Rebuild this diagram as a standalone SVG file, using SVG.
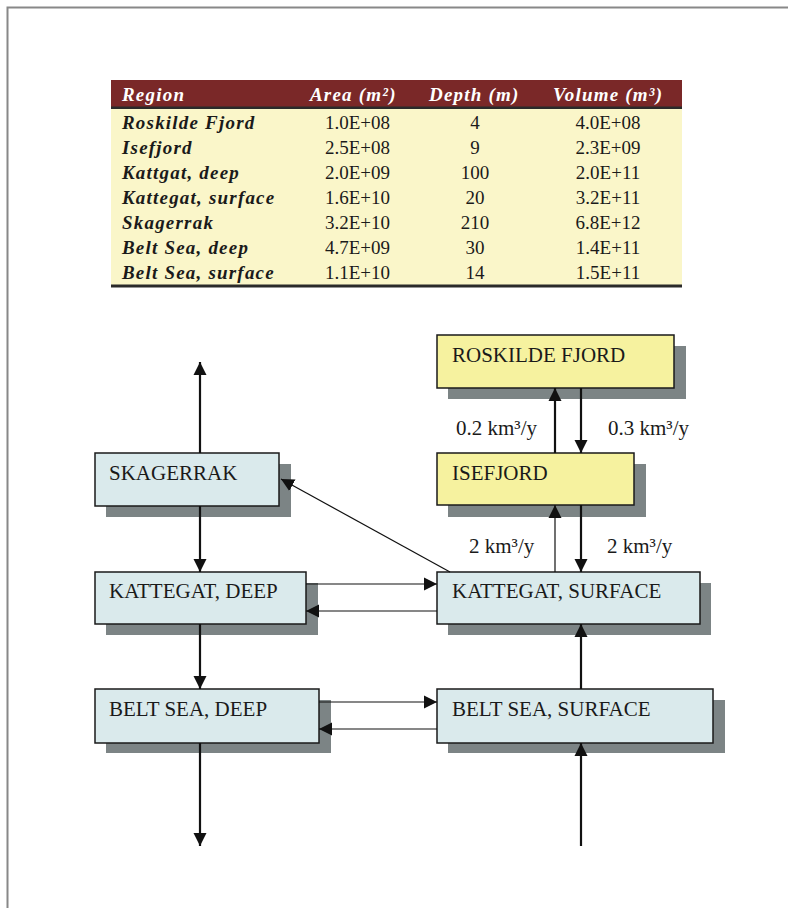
<svg xmlns="http://www.w3.org/2000/svg" width="788" height="908" viewBox="0 0 788 908">
<style>
.hd{font-family:"Liberation Serif",serif;font-size:19px;font-weight:bold;font-style:italic;fill:#fff;letter-spacing:1.2px}
.lb{font-family:"Liberation Serif",serif;font-size:19px;font-weight:bold;font-style:italic;fill:#1a1a1a;letter-spacing:1.2px}
.v{font-family:"Liberation Serif",serif;font-size:19px;fill:#1a1a1a}
.nt{font-family:"Liberation Serif",serif;font-size:21px;fill:#1a1a1a}
.fl{font-family:"Liberation Serif",serif;font-size:21px;fill:#1a1a1a}
.sh{fill:#7c8485}
.bl{fill:#daeaec;stroke:#1a1a1a;stroke-width:1.5}
.ye{fill:#f6f29f;stroke:#1a1a1a;stroke-width:1.5}
.thick{stroke:#111;stroke-width:2.2;fill:none}
.thin{stroke:#111;stroke-width:1.2;fill:none}
</style>
<defs>
<marker id="ah" markerUnits="userSpaceOnUse" markerWidth="14" markerHeight="14" viewBox="0 0 14 14" refX="13" refY="7" orient="auto">
<path d="M0,0.5 L13,7 L0,13.5 Z" fill="#111"/>
</marker>
</defs>
<rect x="0" y="0" width="788" height="908" fill="#fff"/>
<path d="M7.5,908 V7.5 H788" fill="none" stroke="#888" stroke-width="2"/>

<g id="table">
<rect x="111" y="80" width="571" height="28" fill="#7a2828"/>
<rect x="111" y="108" width="571" height="178" fill="#faf6c9"/>
<rect x="111" y="106.5" width="571" height="2.5" fill="#2a2a2a"/>
<rect x="111" y="284.5" width="571" height="3" fill="#2a2a2a"/>
<text class="hd" x="122" y="101">Region</text>
<text class="hd" x="310" y="101">Area (m²)</text>
<text class="hd" x="429" y="101">Depth (m)</text>
<text class="hd" x="553" y="101">Volume (m³)</text>
<g class="lb">
<text x="122" y="128.5">Roskilde Fjord</text>
<text x="122" y="153.5">Isefjord</text>
<text x="122" y="178.5">Kattgat, deep</text>
<text x="122" y="204">Kattegat, surface</text>
<text x="122" y="229">Skagerrak</text>
<text x="122" y="254">Belt Sea, deep</text>
<text x="122" y="279">Belt Sea, surface</text>
</g>
<g class="v" text-anchor="end">
<text x="390" y="128.5">1.0E+08</text>
<text x="390" y="153.5">2.5E+08</text>
<text x="390" y="178.5">2.0E+09</text>
<text x="390" y="204">1.6E+10</text>
<text x="390" y="229">3.2E+10</text>
<text x="390" y="254">4.7E+09</text>
<text x="390" y="279">1.1E+10</text>
</g>
<g class="v" text-anchor="middle">
<text x="475" y="128.5">4</text>
<text x="475" y="153.5">9</text>
<text x="475" y="178.5">100</text>
<text x="475" y="204">20</text>
<text x="475" y="229">210</text>
<text x="475" y="254">30</text>
<text x="475" y="279">14</text>
<text x="608" y="128.5">4.0E+08</text>
<text x="608" y="153.5">2.3E+09</text>
<text x="608" y="178.5">2.0E+11</text>
<text x="608" y="204">3.2E+11</text>
<text x="608" y="229">6.8E+12</text>
<text x="608" y="254">1.4E+11</text>
<text x="608" y="279">1.5E+11</text>
</g>
</g>

<g id="roskilde">
<rect class="sh" x="448" y="346" width="238" height="53"/>
<rect class="ye" x="437" y="335" width="237" height="53"/>
<text class="nt" x="452" y="362">ROSKILDE FJORD</text>
</g>
<g id="isefjord">
<rect class="sh" x="448" y="464" width="198" height="53"/>
<rect class="ye" x="437" y="453" width="197" height="52"/>
<text class="nt" x="452" y="480">ISEFJORD</text>
</g>
<g id="skagerrak">
<rect class="sh" x="106" y="464" width="185" height="53"/>
<rect class="bl" x="95" y="453" width="184" height="53"/>
<text class="nt" x="109" y="480">SKAGERRAK</text>
</g>
<g id="kattegat-deep">
<rect class="sh" x="106" y="583" width="212" height="52"/>
<rect class="bl" x="95" y="572" width="211" height="52"/>
<text class="nt" x="109" y="598">KATTEGAT, DEEP</text>
</g>
<g id="kattegat-surface">
<rect class="sh" x="448" y="583" width="263" height="52"/>
<rect class="bl" x="437" y="572" width="263" height="52"/>
<text class="nt" x="452" y="598">KATTEGAT, SURFACE</text>
</g>
<g id="belt-deep">
<rect class="sh" x="106" y="700" width="225" height="53"/>
<rect class="bl" x="95" y="689" width="224" height="54"/>
<text class="nt" x="109" y="716">BELT SEA, DEEP</text>
</g>
<g id="belt-surface">
<rect class="sh" x="448" y="700" width="277" height="53"/>
<rect class="bl" x="437" y="689" width="276" height="54"/>
<text class="nt" x="452" y="716">BELT SEA, SURFACE</text>
</g>

<g id="connectors">
<line class="thick" x1="200" y1="453" x2="200" y2="362" marker-end="url(#ah)"/>
<line class="thick" x1="200" y1="506" x2="200" y2="572" marker-end="url(#ah)"/>
<line class="thick" x1="200" y1="624" x2="200" y2="689" marker-end="url(#ah)"/>
<line class="thick" x1="200" y1="743" x2="200" y2="846" marker-end="url(#ah)"/>
<line class="thick" x1="555" y1="453" x2="555" y2="388" marker-end="url(#ah)"/>
<line class="thick" x1="581" y1="388" x2="581" y2="453" marker-end="url(#ah)"/>
<line class="thin" x1="555" y1="572" x2="555" y2="505" marker-end="url(#ah)"/>
<line class="thick" x1="581" y1="505" x2="581" y2="572" marker-end="url(#ah)"/>
<line class="thick" x1="581" y1="689" x2="581" y2="624" marker-end="url(#ah)"/>
<line class="thick" x1="581" y1="846" x2="581" y2="743" marker-end="url(#ah)"/>
<line class="thin" x1="450" y1="572" x2="281" y2="479" marker-end="url(#ah)"/>
<line class="thin" x1="306" y1="584" x2="437" y2="584" marker-end="url(#ah)"/>
<line class="thin" x1="437" y1="611" x2="306" y2="611" marker-end="url(#ah)"/>
<line class="thin" x1="319" y1="702" x2="437" y2="702" marker-end="url(#ah)"/>
<line class="thin" x1="437" y1="729" x2="319" y2="729" marker-end="url(#ah)"/>
<text class="fl" x="456" y="435">0.2 km³/y</text>
<text class="fl" x="608" y="435">0.3 km³/y</text>
<text class="fl" x="469" y="553">2 km³/y</text>
<text class="fl" x="607" y="553">2 km³/y</text>
</g>
</svg>
